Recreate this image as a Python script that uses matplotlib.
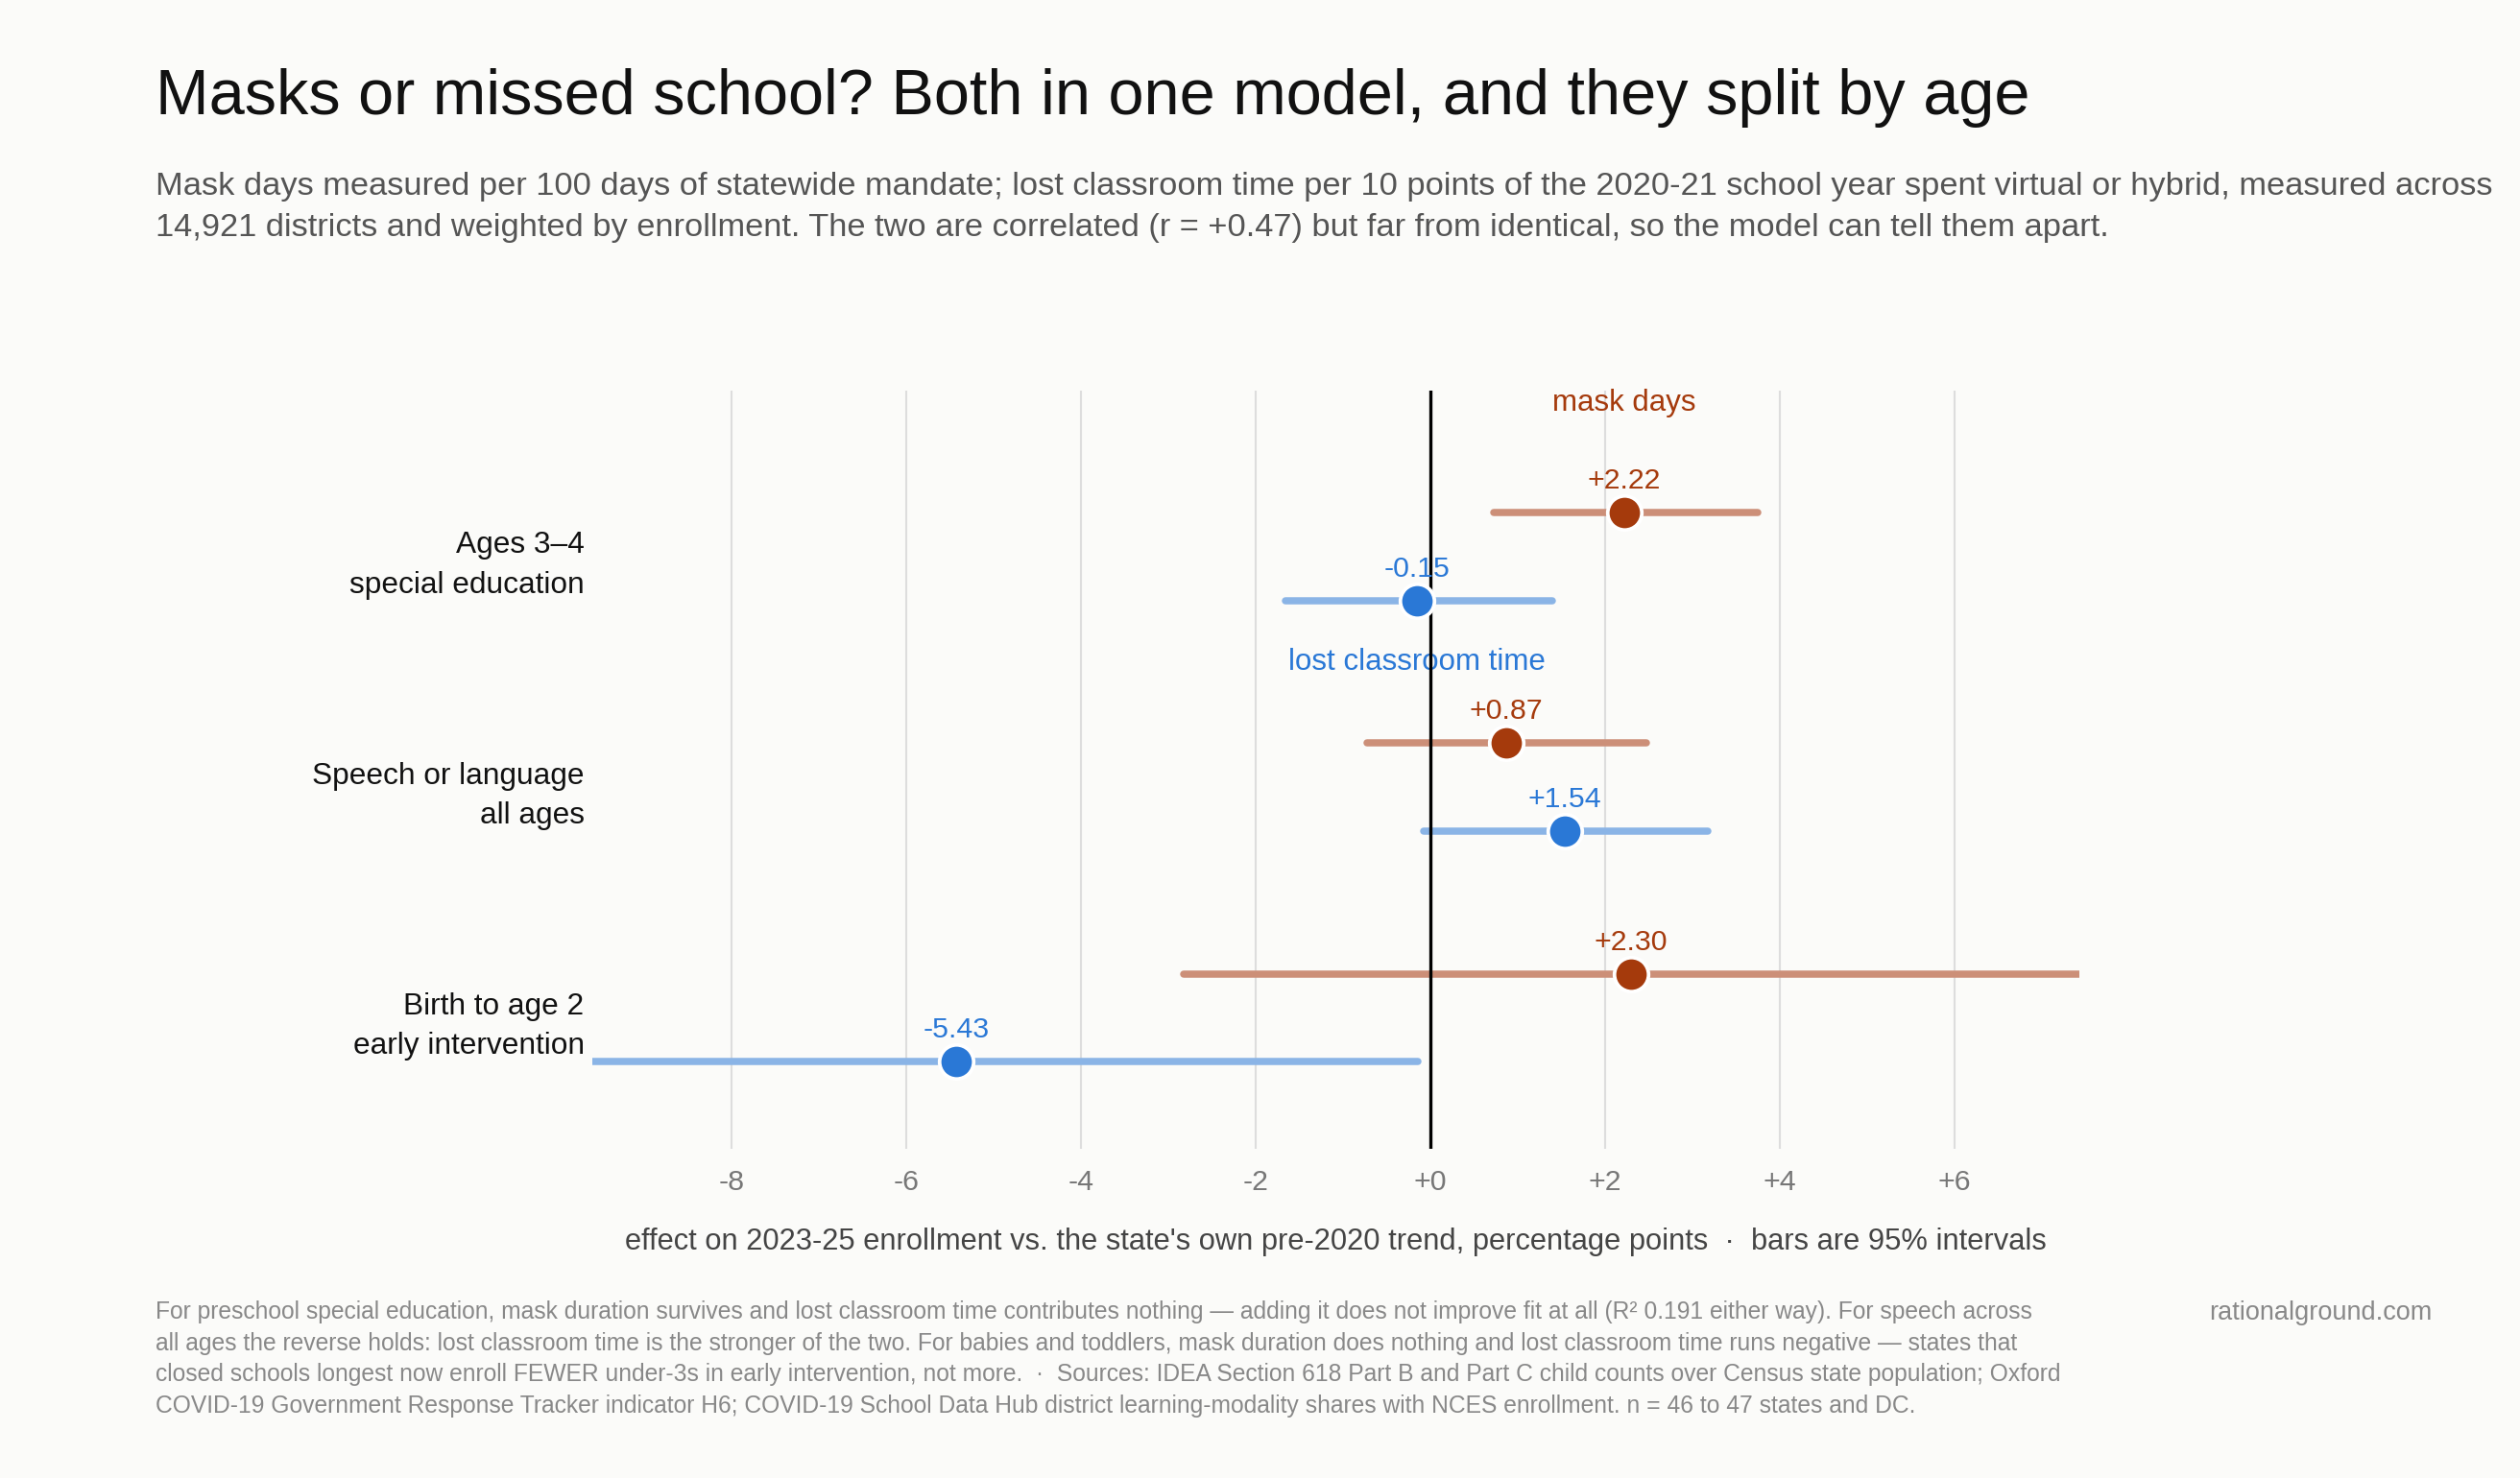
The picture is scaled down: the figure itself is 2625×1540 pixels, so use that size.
import matplotlib.pyplot as plt
import numpy as np

# Data
groups = ["Ages 3\u20134\nspecial education", "Speech or language\nall ages", "Birth to age 2\nearly intervention"]
mask_est = [2.22, 0.87, 2.30]
mask_lo = [0.73, -0.72, -2.83]
mask_hi = [3.75, 2.48, 7.43]
lost_est = [-0.15, 1.54, -5.43]
lost_lo = [-1.66, -0.08, -10.72]
lost_hi = [1.40, 3.18, -0.14]
xticks = [-8, -6, -4, -2, 0, 2, 4, 6]

MASK_DOT = "#A53A0C"
MASK_BAR = "#CC8F78"
LOST_DOT = "#2A78D6"
LOST_BAR = "#8AB4E6"
BG = "#FBFBF9"

plt.rcParams["font.family"] = ["Liberation Sans", "DejaVu Sans"]

fig = plt.figure(figsize=(17.5, 15.4 / 1.5), dpi=150, facecolor=BG)
ax = fig.add_axes([0.235, 0.2227, 0.590, 0.513], facecolor=BG)

ypos = np.arange(len(groups))
off = 0.19

# Interval bars, then dots
for i in range(len(groups)):
    ax.plot([mask_lo[i], mask_hi[i]], [ypos[i] - off] * 2, color=MASK_BAR,
            lw=3.6, solid_capstyle="round", zorder=2)
    ax.plot([lost_lo[i], lost_hi[i]], [ypos[i] + off] * 2, color=LOST_BAR,
            lw=3.6, solid_capstyle="round", zorder=2)
ax.scatter(mask_est, ypos - off, s=290, color=MASK_DOT, edgecolor="white",
           linewidth=1.8, zorder=4)
ax.scatter(lost_est, ypos + off, s=290, color=LOST_DOT, edgecolor="white",
           linewidth=1.8, zorder=4)

# Value labels
for i in range(len(groups)):
    ax.annotate(f"{mask_est[i]:+.2f}", (mask_est[i], ypos[i] - off),
                xytext=(0, 12), textcoords="offset points", ha="center",
                va="baseline", fontsize=14.5, color=MASK_DOT, zorder=5)
    ax.annotate(f"{lost_est[i]:+.2f}", (lost_est[i], ypos[i] + off),
                xytext=(0, 12), textcoords="offset points", ha="center",
                va="baseline", fontsize=14.5, color=LOST_DOT, zorder=5)

# Series names
ax.annotate("mask days", (mask_est[0], ypos[0] - off), xytext=(0, 55),
            textcoords="offset points", ha="center", va="center",
            fontsize=15, color=MASK_DOT)
ax.annotate("lost classroom time", (lost_est[0], ypos[0] + off),
            xytext=(0, -31), textcoords="offset points", ha="center",
            va="center", fontsize=15, color=LOST_DOT)

ax.axvline(0, color="black", lw=1.6, zorder=3)
ax.set_xlim(-9.6, 7.43)
ax.set_ylim(2.57, -0.72)
ax.set_xticks(xticks)
ax.set_xticklabels([f"{t:+d}" if t >= 0 else f"{t:d}" for t in xticks])
ax.grid(axis="x", color="#DDDDDD", lw=1.0, zorder=0)
ax.set_yticks(ypos)
ax.set_yticklabels(groups, fontsize=15.2, color="#111111", ha="right",
                   linespacing=1.5)
ax.tick_params(axis="y", length=0, pad=4)
ax.tick_params(axis="x", length=0, pad=10, labelsize=14.5, labelcolor="#777777")
for sp in ax.spines.values():
    sp.set_visible(False)
ax.set_xlabel("effect on 2023-25 enrollment vs. the state's own pre-2020 trend, "
              "percentage points  \u00b7  bars are 95% intervals",
              fontsize=14.8, color="#444444", labelpad=16)

# Title block
fig.text(0.0619, 0.954, "Masks or missed school? Both in one model, and they split by age",
         fontsize=32, color="#111111", va="top", ha="left")
fig.text(0.0619, 0.884,
         "Mask days measured per 100 days of statewide mandate; lost classroom time per 10 points "
         "of the 2020-21 school year spent virtual or hybrid, measured across\n"
         "14,921 districts and weighted by enrollment. The two are correlated (r = +0.47) but far "
         "from identical, so the model can tell them apart.",
         fontsize=16.5, color="#555555", va="top", ha="left", linespacing=1.5)

# Footnote
fig.text(0.0619, 0.120,
         "For preschool special education, mask duration survives and lost classroom time contributes "
         "nothing \u2014 adding it does not improve fit at all (R\u00b2 0.191 either way). For speech across\n"
         "all ages the reverse holds: lost classroom time is the stronger of the two. For babies and "
         "toddlers, mask duration does nothing and lost classroom time runs negative \u2014 states that\n"
         "closed schools longest now enroll FEWER under-3s in early intervention, not more.  \u00b7  "
         "Sources: IDEA Section 618 Part B and Part C child counts over Census state population; Oxford\n"
         "COVID-19 Government Response Tracker indicator H6; COVID-19 School Data Hub district "
         "learning-modality shares with NCES enrollment. n = 46 to 47 states and DC.",
         fontsize=11.8, color="#888888", va="top", ha="left", linespacing=1.45)
fig.text(0.965, 0.120, "rationalground.com", fontsize=13, color="#888888",
         va="top", ha="right")

fig.savefig("out.png", dpi=150, facecolor=BG)
